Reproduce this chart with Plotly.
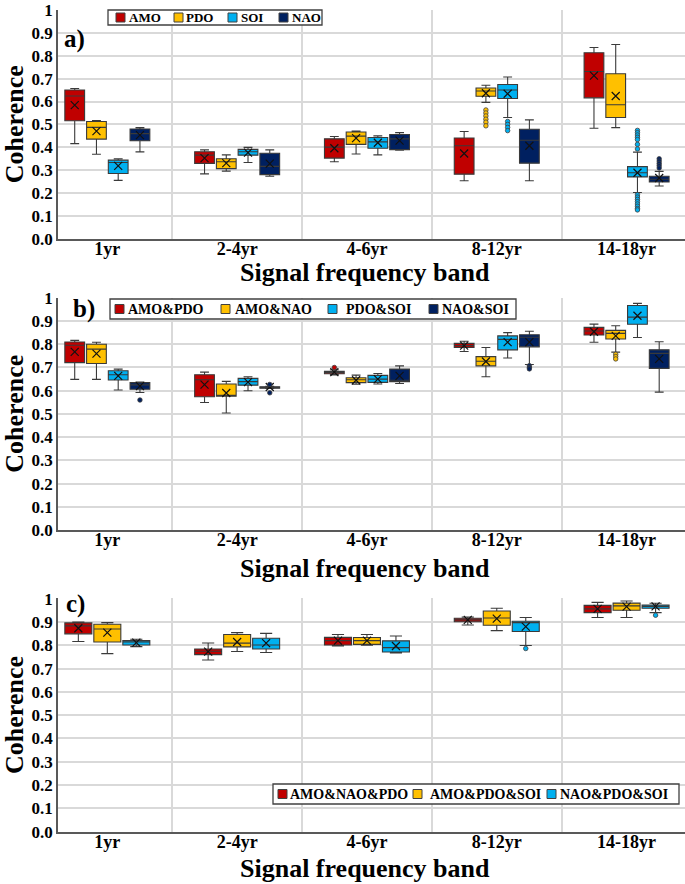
import plotly.graph_objects as go
from plotly.subplots import make_subplots

categories = ["1yr", "2-4yr", "4-6yr", "8-12yr", "14-18yr"]
y_tickvals = [0.0, 0.1, 0.2, 0.3, 0.4, 0.5, 0.6, 0.7, 0.8, 0.9, 1.0]
y_ticktext = ["0.0", "0.1", "0.2", "0.3", "0.4", "0.5", "0.6", "0.7", "0.8", "0.9", "1"]
x_title = "Signal frequency band"
y_title = "Coherence"

# ---------------- Panel a) single indices ----------------
a_names = ["AMO", "PDO", "SOI", "NAO"]
a_lower = [[0.416, 0.284, 0.337, 0.254, 0.483],
           [0.370, 0.296, 0.371, 0.596, 0.486],
           [0.256, 0.334, 0.367, 0.530, 0.203],
           [0.380, 0.274, 0.387, 0.254, 0.231]]
a_q1 = [[0.516, 0.330, 0.353, 0.283, 0.616],
        [0.436, 0.307, 0.413, 0.623, 0.530],
        [0.286, 0.366, 0.396, 0.613, 0.271],
        [0.429, 0.281, 0.390, 0.331, 0.249]]
a_median = [[0.624, 0.366, 0.401, 0.407, 0.731],
            [0.487, 0.337, 0.449, 0.646, 0.586],
            [0.334, 0.381, 0.424, 0.650, 0.289],
            [0.460, 0.317, 0.437, 0.431, 0.261]]
a_q3 = [[0.650, 0.381, 0.437, 0.441, 0.813],
        [0.513, 0.350, 0.467, 0.659, 0.721],
        [0.344, 0.391, 0.443, 0.674, 0.316],
        [0.480, 0.374, 0.456, 0.479, 0.274]]
a_upper = [[0.657, 0.389, 0.447, 0.469, 0.836],
           [0.517, 0.367, 0.471, 0.671, 0.849],
           [0.350, 0.400, 0.450, 0.707, 0.379],
           [0.486, 0.389, 0.464, 0.520, 0.295]]
a_mean = [[0.584, 0.353, 0.396, 0.373, 0.713],
          [0.471, 0.331, 0.440, 0.636, 0.624],
          [0.319, 0.377, 0.420, 0.634, 0.289],
          [0.453, 0.329, 0.429, 0.407, 0.266]]
a_outliers = [
    ("PDO", "8-12yr", [0.563, 0.550, 0.537, 0.523, 0.510, 0.494]),
    ("SOI", "8-12yr", [0.513, 0.500, 0.487, 0.473]),
    ("SOI", "14-18yr", [0.474, 0.464, 0.454, 0.444, 0.434, 0.413, 0.393,
                        0.193, 0.183, 0.173, 0.163, 0.153, 0.143, 0.133, 0.127]),
    ("NAO", "14-18yr", [0.350, 0.340, 0.330, 0.320, 0.310]),
]

# ---------------- Panel b) pairs ----------------
b_names = ["AMO&PDO", "AMO&NAO", "PDO&SOI", "NAO&SOI"]
b_lower = [[0.649, 0.549, 0.668, 0.769, 0.809],
           [0.649, 0.504, 0.628, 0.660, 0.766],
           [0.603, 0.600, 0.629, 0.741, 0.829],
           [0.592, 0.610, 0.631, 0.713, 0.594]]
b_q1 = [[0.721, 0.574, 0.673, 0.786, 0.840],
        [0.717, 0.576, 0.635, 0.707, 0.823],
        [0.646, 0.624, 0.636, 0.776, 0.886],
        [0.606, 0.611, 0.639, 0.789, 0.696]]
b_median = [[0.796, 0.647, 0.679, 0.794, 0.857],
            [0.779, 0.579, 0.647, 0.727, 0.847],
            [0.669, 0.639, 0.650, 0.821, 0.917],
            [0.625, 0.614, 0.645, 0.830, 0.761]]
b_q3 = [[0.810, 0.669, 0.684, 0.804, 0.873],
        [0.800, 0.629, 0.656, 0.747, 0.860],
        [0.686, 0.653, 0.666, 0.836, 0.967],
        [0.635, 0.617, 0.693, 0.841, 0.776]]
b_upper = [[0.817, 0.680, 0.690, 0.813, 0.887],
           [0.809, 0.640, 0.667, 0.786, 0.880],
           [0.693, 0.660, 0.674, 0.850, 0.976],
           [0.637, 0.619, 0.707, 0.856, 0.811]]
b_mean = [[0.767, 0.626, 0.680, 0.794, 0.854],
          [0.760, 0.590, 0.645, 0.726, 0.836],
          [0.664, 0.637, 0.650, 0.809, 0.923],
          [0.620, 0.616, 0.664, 0.809, 0.737]]
b_outliers = [
    ("AMO&PDO", "4-6yr", [0.700]),
    ("AMO&NAO", "14-18yr", [0.757, 0.747, 0.737]),
    ("NAO&SOI", "1yr", [0.560]),
    ("NAO&SOI", "2-4yr", [0.627, 0.591]),
    ("NAO&SOI", "8-12yr", [0.708, 0.700, 0.694]),
]

# ---------------- Panel c) triples ----------------
c_names = ["AMO&NAO&PDO", "AMO&PDO&SOI", "NAO&PDO&SOI"]
c_lower = [[0.816, 0.737, 0.797, 0.887, 0.919],
           [0.764, 0.773, 0.800, 0.863, 0.919],
           [0.794, 0.769, 0.767, 0.799, 0.940]]
c_q1 = [[0.849, 0.760, 0.801, 0.901, 0.940],
        [0.814, 0.793, 0.804, 0.886, 0.950],
        [0.801, 0.784, 0.771, 0.859, 0.959]]
c_median = [[0.883, 0.774, 0.820, 0.909, 0.956],
            [0.870, 0.809, 0.820, 0.917, 0.969],
            [0.814, 0.801, 0.790, 0.897, 0.967]]
c_q3 = [[0.896, 0.784, 0.834, 0.916, 0.971],
        [0.890, 0.846, 0.833, 0.947, 0.981],
        [0.820, 0.830, 0.819, 0.903, 0.973]]
c_upper = [[0.900, 0.810, 0.846, 0.921, 0.984],
           [0.897, 0.854, 0.846, 0.959, 0.990],
           [0.826, 0.851, 0.840, 0.919, 0.980]]
c_mean = [[0.873, 0.773, 0.820, 0.909, 0.956],
          [0.854, 0.814, 0.820, 0.914, 0.966],
          [0.811, 0.809, 0.797, 0.880, 0.967]]
c_outliers = [
    ("NAO&PDO&SOI", "8-12yr", [0.786]),
    ("NAO&PDO&SOI", "14-18yr", [0.929]),
]

colors = ["#C00000", "#FFC000", "#00B0F0", "#002060"]

FONT = "Liberation Serif"
W, H = 685, 884
LEFT = 58
PW = W - LEFT

fig = make_subplots(rows=3, cols=1)

GROUP_SPAN = 0.67
BOX_GAP_PX = 2.0
PX_PER_CAT = 129.8


def add_panel(row, names, lower, q1, med, q3, upper, mean, outliers):
    n = len(names)
    slot = GROUP_SPAN / n
    bw = slot - BOX_GAP_PX / PX_PER_CAT
    for j, name in enumerate(names):
        off = (j - (n - 1) / 2) * slot
        xs = [i + off for i in range(len(categories))]
        fig.add_trace(go.Box(
            x=xs, q1=q1[j], median=med[j], q3=q3[j],
            lowerfence=lower[j], upperfence=upper[j],
            width=bw, whiskerwidth=0.45,
            fillcolor=colors[j],
            line=dict(color="#3a3a3a", width=1.1),
            name=name, showlegend=False, boxpoints=False,
            hoverinfo="skip",
        ), row=row, col=1)
        fig.add_trace(go.Scatter(
            x=xs, y=mean[j], mode="markers", showlegend=False,
            marker=dict(symbol="x-thin", size=8, color="#111111",
                        line=dict(width=1.2, color="#111111")),
            hoverinfo="skip",
        ), row=row, col=1)
    for (sname, cat, vals) in outliers:
        j = names.index(sname)
        i = categories.index(cat)
        off = (j - (n - 1) / 2) * slot
        fig.add_trace(go.Scatter(
            x=[i + off] * len(vals), y=vals, mode="markers", showlegend=False,
            marker=dict(symbol="circle", size=4.5, color=colors[j],
                        line=dict(width=0.8, color="#404040")),
            hoverinfo="skip",
        ), row=row, col=1)


add_panel(1, a_names, a_lower, a_q1, a_median, a_q3, a_upper, a_mean, a_outliers)
add_panel(2, b_names, b_lower, b_q1, b_median, b_q3, b_upper, b_mean, b_outliers)
add_panel(3, c_names, c_lower, c_q1, c_median, c_q3, c_upper, c_mean, c_outliers)

domains = [[1 - 239 / H, 1 - 9.5 / H], [1 - 530 / H, 1 - 297.5 / H], [1 - 831.7 / H, 1 - 598.3 / H]]
GRID = "#d9d9d9"
AXLINE = "#595959"

for r in range(1, 4):
    fig.update_xaxes(
        row=r, col=1,
        domain=[0, 1], automargin=False,
        range=[-0.38, 4.45],
        tickmode="array", tickvals=list(range(len(categories))), ticktext=categories,
        showgrid=False, zeroline=False,
        showline=True, linecolor=AXLINE, linewidth=1.5,
        ticks="", ticklabelstandoff=-7,
        tickfont=dict(family=FONT, size=18, color="black", weight="bold"),
        minor=dict(tickmode="array", tickvals=[0.5, 1.5, 2.5, 3.5],
                   showgrid=True, gridcolor=GRID, gridwidth=1.5, ticks=""),
    )
    fig.update_yaxes(
        row=r, col=1,
        domain=domains[r - 1], automargin=False,
        range=[0, 1.0015],
        tickmode="array", tickvals=y_tickvals, ticktext=y_ticktext,
        ticklabeloverflow="allow",
        showgrid=True, gridcolor=GRID, gridwidth=1.5,
        zeroline=False,
        showline=True, linecolor=AXLINE, linewidth=1.5,
        ticks="",
        tickfont=dict(family=FONT, size=17, color="black", weight="bold"),
        title=dict(text=y_title, standoff=12,
                   font=dict(family=FONT, size=26, color="black", weight="bold")),
    )


def px_x(x):
    return (x - LEFT) / PW


def px_y(y):
    return 1 - y / H


legend_specs = [
    dict(frame=(108, 10, 322, 25), size=13, names=a_names,
         sym_x=[116, 174, 228, 279], txt_x=[127, 184, 239, 290]),
    dict(frame=(110, 299, 516, 319), size=14, names=b_names,
         sym_x=[115, 221, 328, 429], txt_x=[126, 233, 344, 440]),
    dict(frame=(273, 784, 679, 804), size=14, names=c_names,
         sym_x=[278, 413, 547], txt_x=[288, 428, 558]),
]

shapes = []
annotations = []
for spec in legend_specs:
    x0, y0, x1, y1 = spec["frame"]
    shapes.append(dict(type="rect", xref="paper", yref="paper", layer="above",
                       x0=px_x(x0), x1=px_x(x1), y0=px_y(y1), y1=px_y(y0),
                       fillcolor="white", line=dict(color="#404040", width=1.3)))
    yc = (y0 + y1) / 2
    for k, name in enumerate(spec["names"]):
        sx = spec["sym_x"][k]
        shapes.append(dict(type="rect", xref="paper", yref="paper", layer="above",
                           x0=px_x(sx), x1=px_x(sx + 9), y0=px_y(yc + 4.5), y1=px_y(yc - 4.5),
                           fillcolor=colors[k], line=dict(color="#404040", width=1)))
        annotations.append(dict(text=name, xref="paper", yref="paper",
                                x=px_x(spec["txt_x"][k]), y=px_y(yc),
                                xanchor="left", yanchor="middle", showarrow=False,
                                font=dict(family=FONT, size=spec["size"], color="black", weight="bold")))

for label, (lx, ly) in zip(["a)", "b)", "c)"], [(62, 39.5), (71, 308.5), (64, 604)]):
    annotations.append(dict(text=label, xref="paper", yref="paper", x=px_x(lx), y=px_y(ly),
                            xanchor="left", yanchor="middle", showarrow=False,
                            font=dict(family=FONT, size=25, color="black", weight="bold")))

for ty in [272, 568, 868]:
    annotations.append(dict(text=x_title, xref="paper", yref="paper", x=px_x(365), y=px_y(ty),
                            xanchor="center", yanchor="middle", showarrow=False,
                            font=dict(family=FONT, size=26, color="black", weight="bold")))

fig.update_layout(
    width=W, height=H,
    margin=dict(l=LEFT, r=0, t=0, b=0),
    plot_bgcolor="white", paper_bgcolor="white",
    showlegend=False,
    shapes=shapes,
    annotations=annotations,
)

fig.write_html("out.html", config={"displayModeBar": False},
               post_script="document.body.style.margin='0';")
